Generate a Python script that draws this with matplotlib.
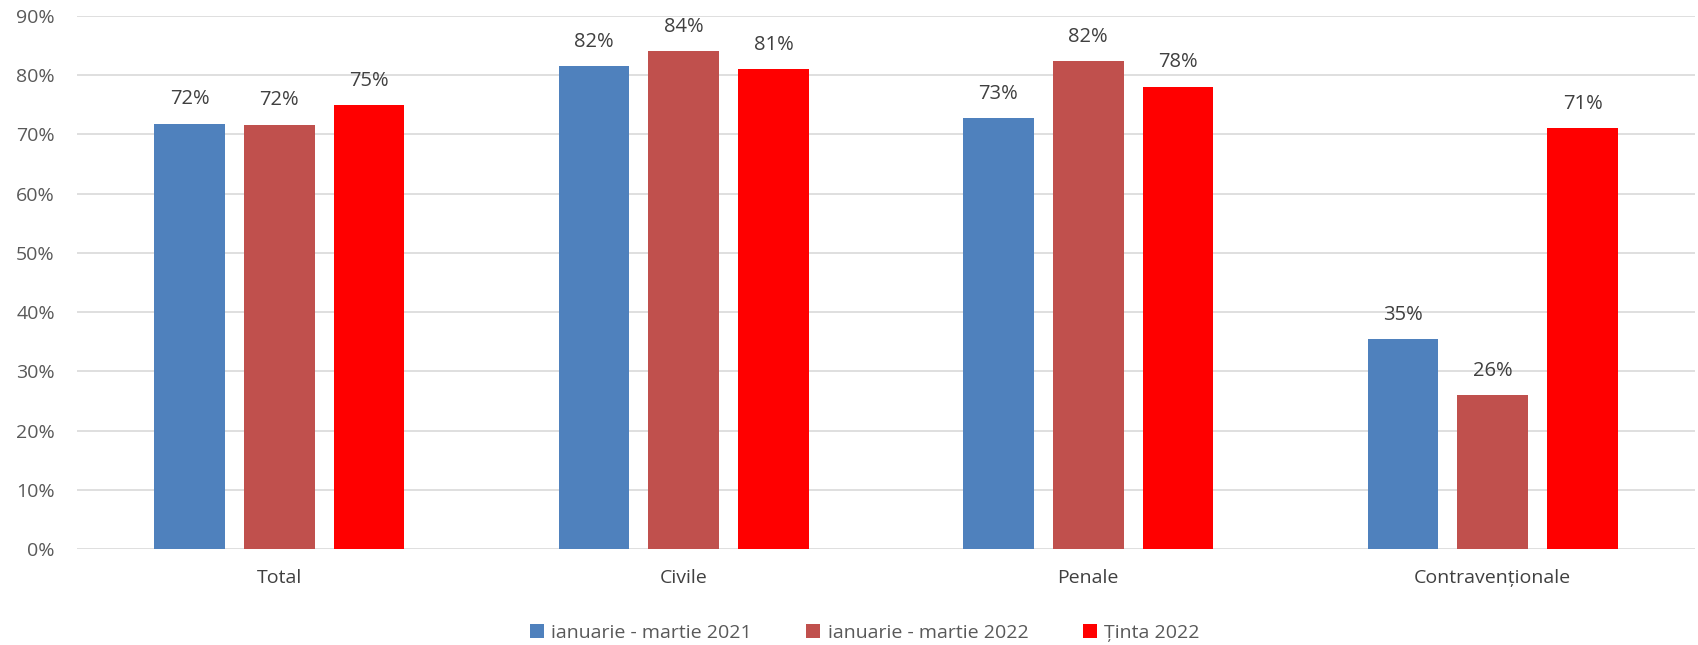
import matplotlib
matplotlib.use("Agg")
import matplotlib.pyplot as plt
import numpy as np
from matplotlib.ticker import FuncFormatter

categories = ["Total", "Civile", "Penale", "Contravenționale"]
series_names = ["ianuarie - martie 2021", "ianuarie - martie 2022", "Ținta 2022"]
v2021 = [71.8, 81.5, 72.7, 35.4]
v2022 = [71.6, 84.0, 82.3, 26.0]
tinta = [74.9, 81.0, 78.0, 71.0]
labels2021 = ["72%", "82%", "73%", "35%"]
labels2022 = ["72%", "84%", "82%", "26%"]
labels_tinta = ["75%", "81%", "78%", "71%"]
yticks = [0, 10, 20, 30, 40, 50, 60, 70, 80, 90]

colors = ["#4F81BD", "#C0504D", "#FF0000"]

plt.rcParams['font.family'] = ['Open Sans', 'DejaVu Sans']

fig = plt.figure(figsize=(16.98, 6.45), dpi=100)
ax = fig.add_axes([77/1698, 1-549.3/645, (1695-77)/1698, (549.3-15.7)/645])

x = np.arange(len(categories))
w = 0.175
step = 0.222
all_vals = [v2021, v2022, tinta]
all_labels = [labels2021, labels2022, labels_tinta]
for i, (vals, labs, c, name) in enumerate(zip(all_vals, all_labels, colors, series_names)):
    pos = x + (i - 1) * step
    ax.bar(pos, vals, width=w, color=c, label=name, zorder=3)
    for p, v, l in zip(pos, vals, labs):
        ax.annotate(l, (p, v), xytext=(0, 14), textcoords='offset points',
                    ha='center', va='baseline', fontsize=14.5, color='#404040')

ax.set_xlim(-0.5, len(categories) - 0.5)
ax.set_ylim(0, 90)
ax.set_yticks(yticks)
ax.yaxis.set_major_formatter(FuncFormatter(lambda v, p: f"{int(v)}%"))
ax.set_xticks(x)
ax.set_xticklabels(categories)
ax.tick_params(axis='both', length=0, labelsize=14, colors='#595959')
ax.tick_params(axis='y', pad=16)
ax.tick_params(axis='x', pad=14)
for lab in ax.get_xticklabels():
    lab.set_color('#404040')
ax.grid(axis='y', color='#D9D9D9', linewidth=1.2, zorder=0)
ax.set_axisbelow(True)
for s in ax.spines.values():
    s.set_visible(False)

leg = fig.legend(loc='center', bbox_to_anchor=(865/1698, 1-633/645), ncol=3,
                 frameon=False, fontsize=14, handlelength=0.7, handleheight=0.7,
                 handletextpad=0.4, columnspacing=2.8)
for t in leg.get_texts():
    t.set_color('#595959')

fig.savefig("out.png", dpi=100)
